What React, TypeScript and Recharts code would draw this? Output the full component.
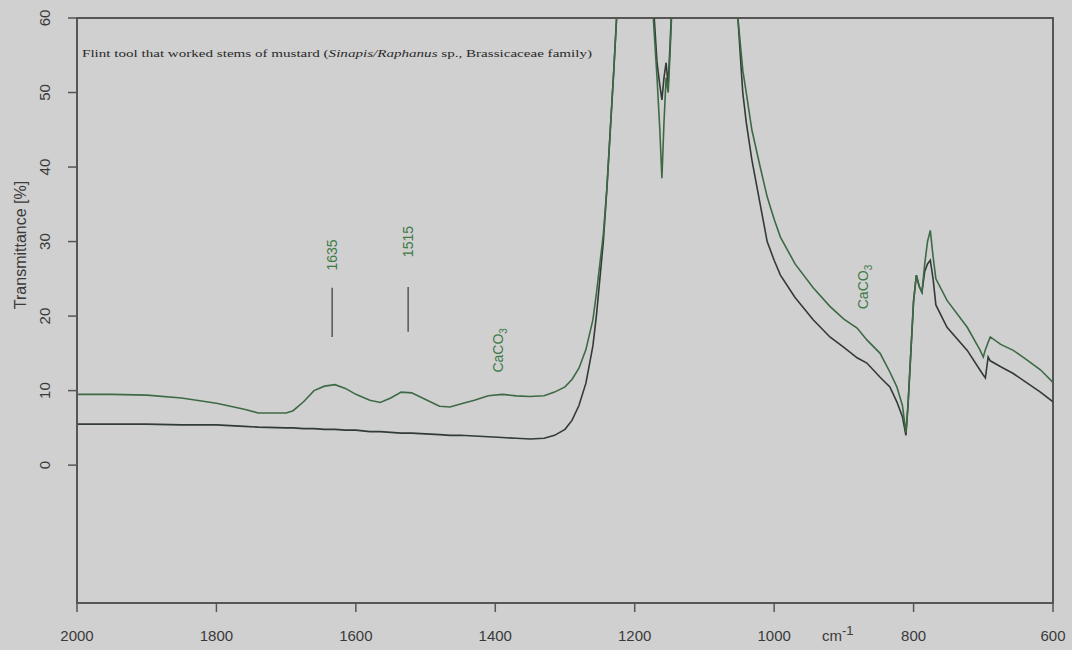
import React from "react";
import { LineChart, Line, XAxis, YAxis, ReferenceArea, ReferenceLine, ReferenceDot } from "recharts";

// wavenumber (cm-1) and transmittance (%)
const wavenumbers = [
  2000, 1950, 1900, 1850, 1800, 1760, 1740, 1700, 1690, 1675, 1660, 1645, 1630, 1615, 1600,
  1580, 1565, 1550, 1535, 1520, 1500, 1480, 1465, 1450, 1430, 1410, 1390, 1370, 1350, 1330,
  1315, 1300, 1290, 1280, 1270, 1260, 1255, 1250, 1245, 1240, 1235, 1230, 1226, 1220, 1180,
  1172, 1168, 1164, 1161, 1158, 1155, 1152, 1149, 1145, 1140, 1060, 1052, 1045, 1040, 1032,
  1020, 1010, 1000, 991, 970, 944, 920, 900, 881, 867, 848, 834, 824, 816, 811,
  808, 804, 800, 796, 792, 788, 784, 780, 776, 772, 768, 752, 723, 705, 700,
  697, 693, 690, 675, 657, 640, 618, 600,
];
const upperT = [
  9.5, 9.5, 9.4, 9.0, 8.3, 7.5, 7.0, 7.0, 7.3, 8.5, 10.0, 10.6, 10.8, 10.3, 9.5,
  8.7, 8.4, 9.0, 9.8, 9.7, 8.8, 7.9, 7.8, 8.2, 8.7, 9.3, 9.5, 9.3, 9.2, 9.3,
  9.8, 10.5, 11.5, 13.0, 15.5, 19.5, 23, 27, 31, 37, 45, 53, 60, 70, 70,
  58, 52, 45, 38.5, 46, 52, 50, 56, 65, 72, 72, 60, 53, 50, 45,
  40, 36, 33, 30.6, 27, 23.8, 21.3, 19.6, 18.4, 16.8, 15.0, 12.5, 10.5, 8, 4.4,
  8, 15, 22, 25.5, 24, 23.2, 27, 30, 31.5, 28, 25, 22.1, 18.5, 15.5, 14.5,
  15.5, 16.5, 17.2, 16.2, 15.4, 14.3, 12.8, 11.1,
];
const lowerT = [
  5.5, 5.5, 5.5, 5.4, 5.4, 5.2, 5.1, 5.0, 5.0, 4.9, 4.9, 4.8, 4.8, 4.7, 4.7,
  4.5, 4.5, 4.4, 4.3, 4.3, 4.2, 4.1, 4.0, 4.0, 3.9, 3.8, 3.7, 3.6, 3.5, 3.6,
  4.0, 4.8, 6.0, 8.0, 11.0, 16.0, 20, 25, 30, 37, 45, 53, 60, 70, 70,
  60, 54, 51, 49, 52, 54, 51, 57, 66, 72, 72, 60, 50, 46, 41,
  35, 30, 27.5, 25.5, 22.5, 19.5, 17.2, 15.8, 14.4, 13.7, 11.8, 10.5, 8.5, 6.5, 4.0,
  8, 15, 22, 25.5, 24, 23.2, 26, 27, 27.5, 25, 21.5, 18.5, 15.4, 12.8, 12.1,
  11.7, 14.5, 14.0, 13.2, 12.3, 11.2, 9.8, 8.5,
];

const xTicks = [2000, 1800, 1600, 1400, 1200, 1000, 800, 600];
const yTicks = [0, 10, 20, 30, 40, 50, 60];

const bandMarks = [
  { wn: 1634, label: "1635", low: 17.2, high: 23.8, textAt: 28.2 },
  { wn: 1525, label: "1515", low: 17.9, high: 23.9, textAt: 30.0 },
];
const carbonateLabels = [
  { wn: 1396, t: 15.4 },
  { wn: 872, t: 23.9 },
];

const data = wavenumbers.map((wn, i) => ({ wn, upper: upperT[i], lower: lowerT[i] }));

const AXIS = "#555";
const TEXT = "#3a3a3a";
const GREEN = "#3f7a48";
const SANS = "'Liberation Sans', Arial, sans-serif";

function XTick({ x, payload }: any) {
  return (
    <text x={x} y={641} textAnchor="middle" fill={TEXT} fontSize={15} fontFamily={SANS}>
      {payload.value}
    </text>
  );
}

function YTick({ y, payload }: any) {
  return (
    <text
      transform={`translate(44,${y}) rotate(-90)`}
      textAnchor="middle"
      dominantBaseline="central"
      fill={TEXT}
      fontSize={15}
      fontFamily={SANS}
    >
      {payload.value}
    </text>
  );
}

function rotatedText(text: string, sub?: string) {
  return (props: any) => {
    const { x, y } = props.viewBox;
    return (
      <text
        transform={`translate(${x},${y}) rotate(-90)`}
        textAnchor="middle"
        dominantBaseline="central"
        fill={GREEN}
        fontSize={14}
        fontFamily={SANS}
      >
        {text}
        {sub && (
          <tspan dy={5} fontSize={10}>
            {sub}
          </tspan>
        )}
      </text>
    );
  };
}

export default function App() {
  return (
    <div style={{ position: "relative", width: 1072, height: 650, background: "#d0d0d0" }}>
      <style>{`body{margin:0;background:#d0d0d0}`}</style>
      <LineChart width={1072} height={650} data={data} margin={{ top: 18, right: 19, bottom: 17, left: 47 }}>
        <XAxis
          dataKey="wn"
          type="number"
          domain={[600, 2000]}
          reversed
          allowDataOverflow
          ticks={xTicks}
          interval={0}
          height={30}
          tickSize={9}
          tick={<XTick />}
          tickLine={{ stroke: AXIS, strokeWidth: 1.5 }}
          axisLine={{ stroke: AXIS, strokeWidth: 2 }}
        />
        <YAxis
          type="number"
          domain={[-18.5, 60]}
          allowDataOverflow
          ticks={yTicks}
          interval={0}
          width={30}
          tickSize={9}
          tick={<YTick />}
          tickLine={{ stroke: AXIS, strokeWidth: 1.5 }}
          axisLine={{ stroke: AXIS, strokeWidth: 2 }}
        />
        <ReferenceArea x1={2000} x2={600} y1={-18.5} y2={60} fill="none" stroke={AXIS} strokeWidth={2} />
        <Line
          type="linear"
          dataKey="lower"
          stroke="#323b35"
          strokeWidth={1.6}
          dot={false}
          isAnimationActive={false}
        />
        <Line
          type="linear"
          dataKey="upper"
          stroke="#3d6a45"
          strokeWidth={1.6}
          dot={false}
          isAnimationActive={false}
        />
        {bandMarks.map((m) => (
          <ReferenceLine
            key={m.label}
            segment={[
              { x: m.wn, y: m.low },
              { x: m.wn, y: m.high },
            ]}
            stroke="#555"
            strokeWidth={1.5}
          />
        ))}
        {bandMarks.map((m) => (
          <ReferenceDot
            key={"t" + m.label}
            x={m.wn}
            y={m.textAt}
            r={0}
            fill="none"
            stroke="none"
            label={{ content: rotatedText(m.label) }}
          />
        ))}
        {carbonateLabels.map((c) => (
          <ReferenceDot
            key={"c" + c.wn}
            x={c.wn}
            y={c.t}
            r={0}
            fill="none"
            stroke="none"
            label={{ content: rotatedText("CaCO", "3") }}
          />
        ))}
      </LineChart>
      <svg
        width={1072}
        height={650}
        style={{ position: "absolute", left: 0, top: 0, pointerEvents: "none" }}
      >
        <text
          x={82}
          y={57}
          fill="#2a2a2a"
          fontSize={11}
          fontFamily="'Liberation Serif', 'Times New Roman', serif"
          textLength={510}
          lengthAdjust="spacingAndGlyphs"
        >
          Flint tool that worked stems of mustard (<tspan fontStyle="italic">Sinapis/Raphanus</tspan> sp., Brassicaceae family)
        </text>
        <text
          transform="translate(20,245) rotate(-90)"
          textAnchor="middle"
          dominantBaseline="central"
          fill={TEXT}
          fontSize={16}
          fontFamily={SANS}
        >
          Transmittance [%]
        </text>
        <text x={822} y={641} fill={TEXT} fontSize={15} fontFamily={SANS}>
          cm
          <tspan dy={-6} fontSize={13}>
            -1
          </tspan>
        </text>
      </svg>
    </div>
  );
}
